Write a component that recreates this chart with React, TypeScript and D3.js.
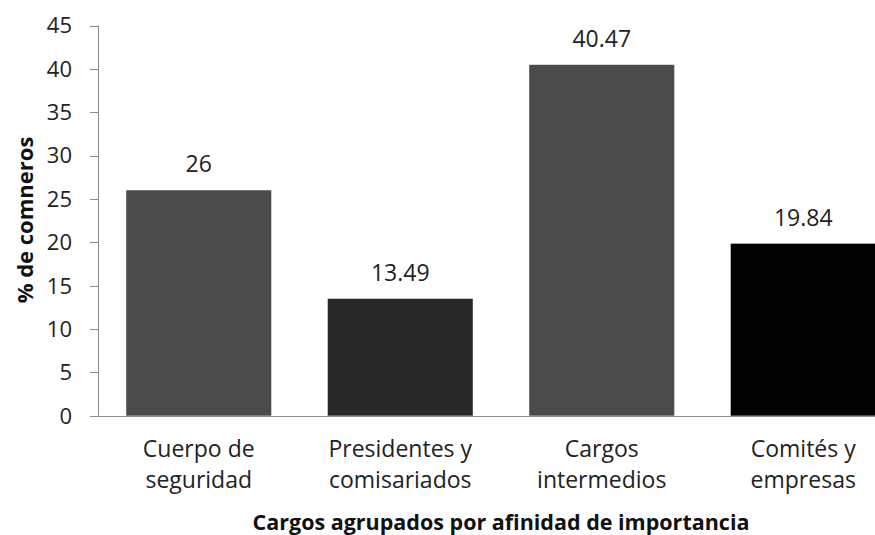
import React from "react";
import * as d3 from "d3";

const categories: string[][] = [
  ["Cuerpo de", "seguridad"],
  ["Presidentes y", "comisariados"],
  ["Cargos", "intermedios"],
  ["Comités y", "empresas"],
];
const values: number[] = [26, 13.49, 40.47, 19.84];
const valueLabels: string[] = ["26", "13.49", "40.47", "19.84"];
const barColors: string[] = ["#4b4b4b", "#272727", "#4b4b4b", "#000000"];
const yTicks: number[] = [0, 5, 10, 15, 20, 25, 30, 35, 40, 45];
const yTitle = "% de comneros";
const xTitle = "Cargos agrupados por afinidad de importancia";

const W = 875;
const H = 535;
const FONT = "'Open Sans', sans-serif";

export default function App() {
  const x0 = 98;
  const x1 = 904;
  const y = d3.scaleLinear().domain([0, 45]).range([415.7, 25.5]);
  const x = d3
    .scaleBand<number>()
    .domain(values.map((_, i) => i))
    .range([x0, x1])
    .paddingInner(0.28)
    .paddingOuter(0.14);

  return (
    <svg
      width={W}
      height={H}
      style={{ position: "absolute", left: 0, top: 0, background: "#fff" }}
      fontFamily={FONT}
    >
      {values.map((v, i) => (
        <g key={i}>
          <rect
            x={x(i)!}
            y={y(v)}
            width={x.bandwidth()}
            height={y(0) - y(v)}
            fill={barColors[i]}
          />
          <text
            x={x(i)! + x.bandwidth() / 2}
            y={y(v) - 18}
            textAnchor="middle"
            fontSize={23}
            fill="#222"
          >
            {valueLabels[i]}
          </text>
        </g>
      ))}
      <line x1={x0 + 0.5} x2={x0 + 0.5} y1={y(45)} y2={y(0)} stroke="#8c8c8c" />
      {yTicks.map((t) => (
        <g key={t}>
          <line
            x1={x0 - 8}
            x2={x0}
            y1={Math.round(y(t)) + 0.5}
            y2={Math.round(y(t)) + 0.5}
            stroke="#8c8c8c"
          />
          <text
            x={x0 - 26}
            y={y(t)}
            dy="0.36em"
            textAnchor="end"
            fontSize={22}
            fill="#222"
          >
            {t}
          </text>
        </g>
      ))}
      <line
        x1={x0}
        x2={W}
        y1={Math.round(y(0)) + 0.5}
        y2={Math.round(y(0)) + 0.5}
        stroke="#8c8c8c"
      />
      {categories.map((lines, i) => (
        <text key={i} textAnchor="middle" fontSize={23} fill="#222">
          {lines.map((l, j) => (
            <tspan key={j} x={x(i)! + x.bandwidth() / 2} y={457 + j * 31}>
              {l}
            </tspan>
          ))}
        </text>
      ))}
      <text
        x={(x0 + x1) / 2}
        y={530}
        textAnchor="middle"
        fontSize={21.5}
        fontWeight="bold"
        fill="#111"
      >
        {xTitle}
      </text>
      <text
        transform={`translate(33, 220) rotate(-90)`}
        textAnchor="middle"
        fontSize={22}
        fontWeight="bold"
        fill="#111"
      >
        {yTitle}
      </text>
    </svg>
  );
}
